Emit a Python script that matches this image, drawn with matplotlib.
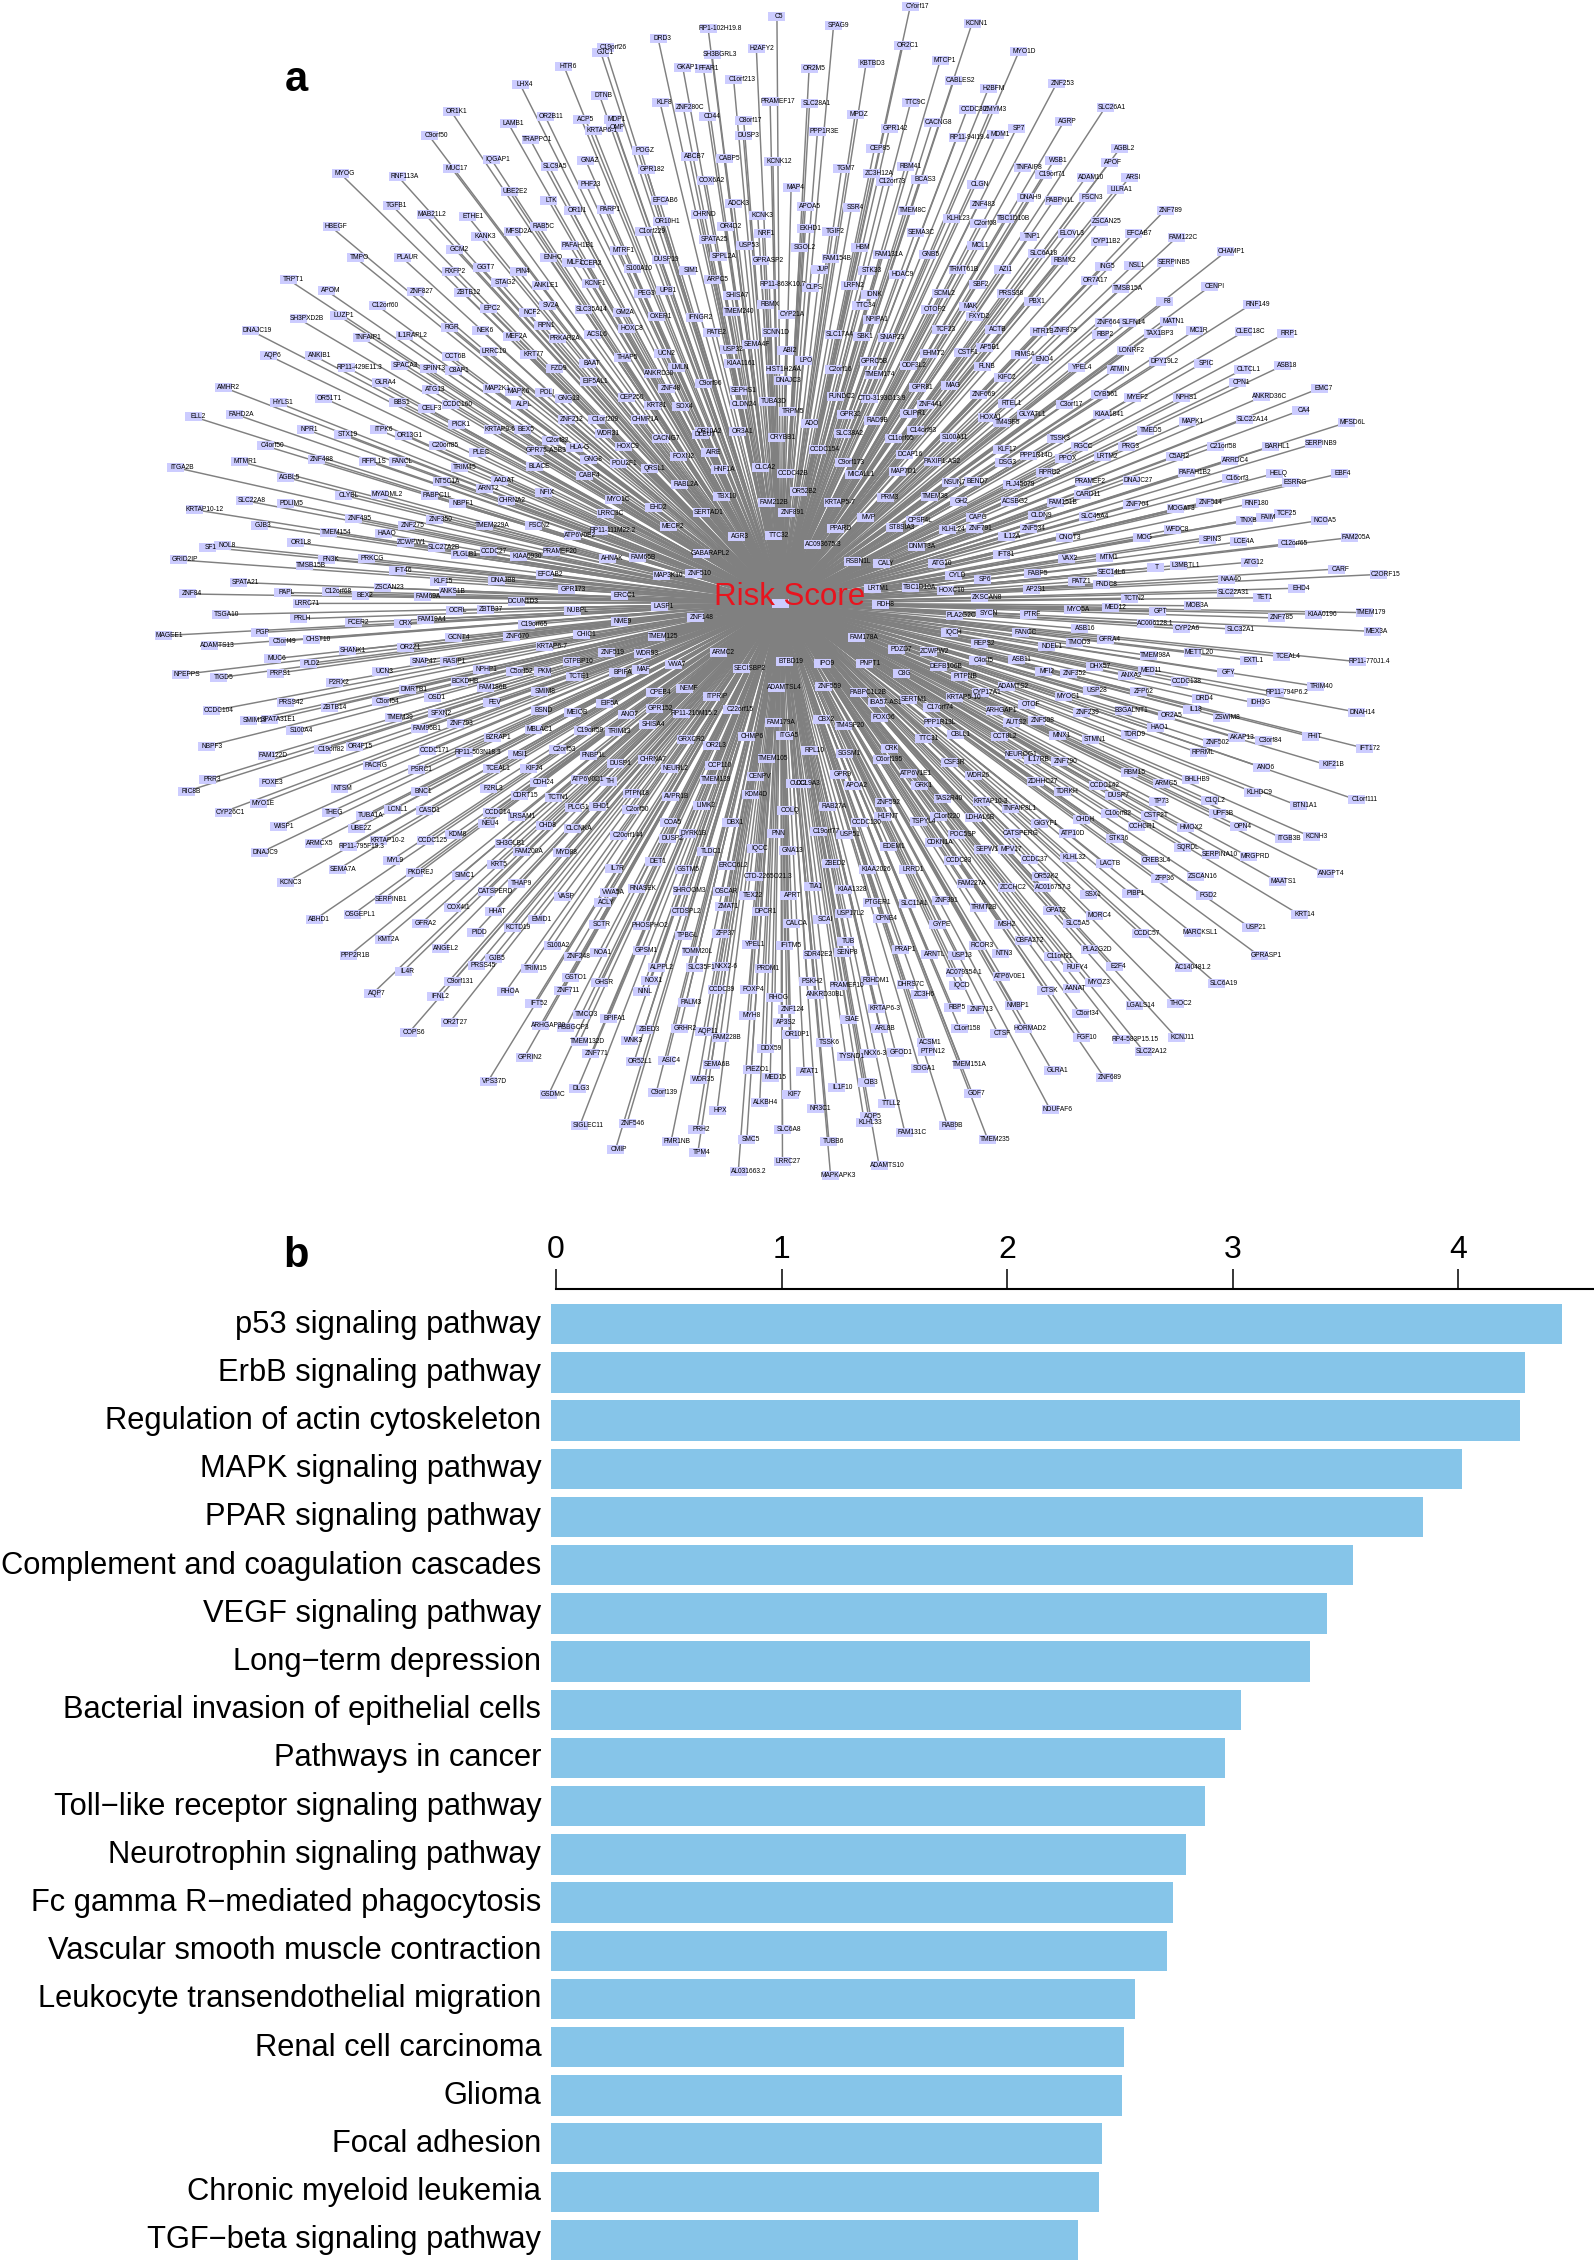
import matplotlib
matplotlib.use("Agg")
import matplotlib.pyplot as plt
from matplotlib.patches import Rectangle
from matplotlib.collections import LineCollection
from matplotlib.transforms import ScaledTranslation

plt.rcParams["font.family"] = ["Liberation Sans", "DejaVu Sans"]

# Pathway enrichment values (panel b)
pathways = ["p53 signaling pathway", "ErbB signaling pathway", "Regulation of actin cytoskeleton",
            "MAPK signaling pathway", "PPAR signaling pathway", "Complement and coagulation cascades",
            "VEGF signaling pathway", "Long\u2212term depression", "Bacterial invasion of epithelial cells",
            "Pathways in cancer", "Toll\u2212like receptor signaling pathway", "Neurotrophin signaling pathway",
            "Fc gamma R\u2212mediated phagocytosis", "Vascular smooth muscle contraction",
            "Leukocyte transendothelial migration", "Renal cell carcinoma", "Glioma", "Focal adhesion",
            "Chronic myeloid leukemia", "TGF\u2212beta signaling pathway"]
enrichment = [4.463, 4.297, 4.274, 4.017, 3.843, 3.534, 3.419, 3.344, 3.036, 2.967,
              2.876, 2.794, 2.736, 2.710, 2.568, 2.519, 2.510, 2.421, 2.408, 2.313]
x_ticks = [0, 1, 2, 3, 4]

# Network genes with layout position, read quadrant by quadrant
genes_nw = [("C5",1517,42),("RP1-102H19.8",1375,74),("DRD3",1235,100),("H2AFY2",1477,127),("C19orf26",1117,125),
("GJC1",1097,137),("SH3BGRL3",1375,143),("HTR6",1008,173),("GKAP1",1297,176),("FFAR1",1347,180),("C1orf213",1427,207),
("LHX4",903,222),("DTNB",1094,250),("PRAMEF17",1515,264),("KLF8",1240,269),("ZNF280C",1303,280),("OR1K1",739,292),
("OR2B11",968,305),("CD44",1355,304),("C8orf17",1449,316),("ACP5",1050,312),("MDP1",1125,311),("LAMB1",876,322),
("OMP",1128,332),("KRTAP6-1",1090,342),("DUSP3",1443,354),("C9orf50",690,355),("TRAPPC1",934,365),("POGZ",1193,393),
("ABCB7",1313,408),("CABP5",1397,415),("IQGAP1",838,417),("KCNK12",1517,423),("SLC9A5",977,436),("MUC17",739,439),
("GNAZ",1061,420),("GPR182",1212,442),("MYOG",469,454),("RNF113A",615,461),("COX6A2",1355,471),("PHF23",1064,482),
("MAP4",1556,489),("UBE2E2",881,500),("EFCAB6",1243,523),("LTK",968,523),("ADCK3",1420,533),("TGFB1",595,536),
("OR1I1",1030,549),("PARP1",1110,548),("CHRND",1337,560),("KCNK3",1478,564),("MAB21L2",681,561),("ETHE1",779,566),
("OR10H1",1249,580),("HBEGF",449,593),("OR4D2",1400,591),("RAB5C",950,592),("C1orf229",1210,604),("MFSD2A",890,605),
("KANK3",808,619),("SPATA25",1361,626),("NRF1",1487,610),("USP53",1445,642),("PAFAH1B1",1032,642),("MTRF1",1143,654),
("GCM2",745,651),("SPPL2A",1385,671),("TMPO",505,673),("PLAUR",620,673),("ENHO",971,674),("MLF1",1025,685),
("CCER2",1064,689),("GPRASP2",1490,680),("DUSP19",1246,679),("GGT7",809,699),("S100A10",1181,702),("SIM1",1306,706),
("RXFP2",737,710),("PIN4",899,709),("TRPT1",346,731),("ARPC5",1370,730),("STAG2",856,737),("RP11-863K10.7",1525,744),
("ANKLE1",957,745),("KCNF1",1074,740),("APOM",436,760),("UPB1",1250,760),("ZNF827",655,762),("ZBTB12",769,764),
("SHISA7",1417,771),("PEG3",1198,768),("RBMX",1495,796),("SV2A",968,797),("C12orf60",568,799),("EPC2",826,806),
("SLC35A14",1065,809),("TMEM240",1420,815),("GM2A",1146,817),("NCF2",921,817),("LUZP1",467,825),("OXER1",1233,828),
("IFNGR2",1327,829),("SH3PXD2B",378,833),("CYP21A",1550,822),("RPN1",956,850),("NEK6",808,863),("RGR",729,856),
("HOXC8",1162,859),("DNAJC19",259,863),("PATE2",1366,869),("SCNN1D",1510,870),("ACSL6",1080,875),("MEF2A",885,880),
("TNFAIP1",526,881),("IL1RAPL2",633,877),("PRKAR2A",1000,885),("SEMA4F",1463,901),("USP32",1407,913),("ABI2",1543,915),
("LRRC10",831,919),("KRT77",925,927),("AQP6",296,929),("ANKIB1",409,929),("THAP5",1151,935),("UCN2",1245,924),
("CCT6B",738,932),("KIAA1161",1425,950),("BAAT",1065,950),("RP11-429E11.3",505,959),("SPACA3",617,954),("LMLN",1280,959),
("SPINT3",686,964),("C8AP1",745,969),("FZD9",985,963),("HIST1H2AA",1527,965),("ANKRD30",1229,977),("C9orf96",1351,1002),
("DNAJC3",1540,995),("GLRA4",569,1000),("EIF5AL1",1075,998),("ATG13",689,1019),("MAP2K1",838,1014),("MAPK6",890,1024),
("POLI",958,1026),("SEPHS1",1433,1021),("ZNF48",1257,1014),("AMHR2",189,1012),("GNG13",1010,1041),("CEP250",1163,1038),
("ALPL",901,1056),("CLDN24",1433,1056),("TUBA3D",1505,1048),("OR51T1",433,1040),("HYLS1",321,1052),("BBS1",607,1053),
("KRT81",1223,1060),("SOX4",1290,1062),("CCDC160",741,1057),("CELF3",680,1068),("TRPM5",1550,1074),("ELL2",115,1089),
("FAHD2A",219,1082),("ZNF212",1018,1097),("C1orf209",1097,1096),("CHMP1A",1195,1097),("PICK1",751,1108),("KRTAP9-6",845,1122),
("BEX5",907,1123),("NPR1",384,1121),("ITPK6",564,1123),("OR10A2",1350,1128),("DLEU7",1340,1136),("OR3A1",1428,1128),
("WDR31",1105,1132),("STX19",477,1136),("OR13G1",627,1137),("CRYBB1",1525,1144),("C2orf82",982,1150),("CACNG7",1245,1147),
("HOXC9",1153,1167),("HLA-G",1037,1169),("C4orf50",295,1165),("C20orf85",712,1165),("GPR75-ASB3",955,1178),("PLEC",799,1183),
("AIRE",1360,1182),("FOXN2",1287,1194),("GNG8",1068,1201),("ZNF488",415,1200),("FANCL",608,1205),("RFPL1S",540,1205),
("MTMR1",229,1206),("POU2F1",1145,1211),("TRIM45",760,1222),("ITGA2B",77,1222),("BLACE",940,1219),("QRSL1",1216,1223),
("HNF1A",1386,1227),("CLCA2",1484,1222),("CCDC42B",1550,1237),("CABP4",1061,1243),("AGBL5",338,1247),("NT5C1A",717,1257),
("AADAT",855,1255),("NFIX",958,1286),("RABL2A",1292,1266),("ARNT2",818,1277),("CLYBL",479,1294),("MYADML2",571,1291),
("PABPC1L",692,1296),("SLC22A8",245,1308),("TBX10",1391,1298),("MYO1C",1130,1304),("CHRNA2",874,1307),("FAM212B",1505,1312),
("PDLIM5",341,1315),("NBPF1",754,1315),("EHD2",1225,1327),("KRTAP10-12",132,1332),("SERTAD1",1347,1340),("LRRC3C",1112,1342),
("ZNF891",1550,1340),("ZNF495",505,1356),("ZNF350",700,1357),("ZNF275",633,1372),("TMEM229A",826,1372),("FSCN2",938,1372),
("MECP2",1262,1376),("GJB3",273,1372),("RP11-111M22.2",1115,1387),("TMEM154",448,1392),("HAAO",572,1395),("ATP6V0E2",1038,1399),
("AGR3",1424,1401),("TTC32",1516,1400),("ZCWPW1",631,1417),("OR1L8",364,1418),("NOL8",185,1426),("SLC27A2B",710,1430),
("SF1",147,1430),("PLGLB1",760,1450),("CCDC27",830,1442),("PRAMEF20",988,1440),("GABARAPL2",1352,1446),("KIAA0930",909,1454),
("AHNAK",1115,1460),("FAM65B",1190,1458),("GRID2IP",85,1463),("FN3K",436,1462),("PRKCG",535,1460),("TMSB15B",389,1478),
("IFT46",610,1490),("MAP3K10",1251,1504),("ZNF510",1325,1498),("EFCAB2",965,1502),("DNAJB8",851,1516),("KLF15",708,1520),
("SPATA21",230,1522),("ZSCAN23",577,1536),("GPR173",1020,1540),("C12orf68",454,1545),("PAPL",330,1548),("ANKS1B",731,1546),
("ZNF84",102,1552),("ERCC1",1145,1555),("BEX2",518,1556),("FAM69A",672,1558)]

genes_sw = [("LRRC71",380,9),("DCUN1D3",900,5),("TSGA10",184,38),("OCRL",743,27),("ZBTB37",823,24),("NUBPL",1032,27),
("LASP1",1240,17),("ZNF148",1330,45),("PRLH",368,49),("FAM19A4",681,50),("FCER2",503,59),("CRX",617,62),("C19orf65",927,65),
("NME9",1141,55),("MAGEE1",46,93),("PGP",272,85),("ADAMTS13",162,120),("GCNT4",744,97),("ZNF670",887,95),("CHIC1",1054,89),
("TMEM125",1238,96),("C5orf49",325,108),("CHST10",405,103),("KRTAP6-7",970,121),("OR2Z1",628,123),("SHANK1",490,133),
("ZNF519",1115,138),("WDR93",1200,139),("ARMC2",1384,138),("MUC6",305,154),("SNAP47",662,161),("RASIP1",734,161),
("GTPBP10",1034,160),("PLD2",391,166),("VWA7",1272,169),("BTBD19",1545,160),("NPHP1",811,181),("C5orf52",895,186),("PKM",953,187),
("BPIFA",1140,190),("MAF",1190,182),("SECISBP2",1447,180),("NPEPPS",89,195),("PRPS1",315,192),("TIGD5",178,203),("UCN3",565,186),
("TCTE1",1036,201),("P2RX2",456,216),("BCKDHB",760,213),("FAM186B",826,229),("DMRTB1",636,235),("SMIM8",952,239),("CPEB4",1230,241),
("NEMF",1299,232),("ADAMTSL4",1530,228),("OSD1",691,254),("ITPRIP",1368,253),("FEV",832,268),("C5orf54",574,264),("EIF5A",1109,271),
("PRSS42",341,268),("ZBTB14",447,280),("GPR152",1231,284),("C22orf15",1423,285),("CCDC104",165,290),("BSND",950,288),("MEIOB",1030,294),
("ANO7",1158,300),("SFXN2",703,297),("RP11-210M15.2",1313,297),("SMIM19",252,316),("SPATA31E1",310,313),("TMEM39",603,308),
("ZNF793",752,322),("SHISA4",1215,325),("FAM179A",1521,321),("S100A4",364,341),("FAM96B1",668,335),("C19orf59",1062,342),
("TRIM13",1133,343),("MBLAC1",940,339),("BZRAP1",840,358),("CHMP6",1452,357),("ITGA5",1542,355),("GRXCR2",1307,364),("NBPF3",149,382),
("CCDC171",687,392),("OR4F15",508,384),("OR2L3",1366,379),("C19orf82",436,391),("C2orf53",1000,390),("RP11-503N18.3",790,398),
("FAM122D",297,407),("MSI1",893,404),("FNBP1L",1071,407),("CHRNA7",1213,416),("TMEM105",1503,415),("DUSP1",1135,428),("PACRG",546,432),
("CCP110",1374,433),("KIF24",926,440),("TCEAL1",839,441),("NEURL2",1267,441),("PSRC1",655,442),("CENPV",1472,461),("PRR3",149,469),
("TMEM139",1364,469),("TH",1110,475),("ATP6V0D1",1056,470),("CDH24",949,476),("FOXE3",296,478),("RIC8B",100,500),("BNC1",659,501),
("NTSM",466,493),("F2RL3",828,493),("KDM4D",1461,508),("PTPN18",1175,505),("CDRT15",906,512),("AVPR1B",1271,514),("TCTN1",985,517),
("CUX2",1565,480),("MYO1E",273,533),("EHD1",1089,540),("PLCG1",1033,541),("LIMK2",1342,538),("C2orf50",1175,548),("CCDC14",838,555),
("CASD1",674,551),("LCNL1",598,548),("THEG",445,554),("CYP26C1",194,554),("COLQ",1543,551),("TUBA1A",533,563),("LRSAM1",899,567),
("NEU4",822,585),("COA5",1260,582),("CHD8",960,590),("CLCNKA",1034,598),("DBX1",1410,581),("WISP1",323,592),("UBE2Z",509,598),
("KDM8",742,614),("C20orf144",1152,616),("PNN",1515,609),("DYRK1B",1312,611),("DUSP2",1260,623),("KRTAP10-2",574,628),("CCDC125",682,629),
("ARMCX5",410,636),("SH3GLB1",869,637),("RP11-795F19.3",510,644),("IQCC",1470,650),("GNA13",1550,654),("TLDC1",1353,656),("DNAJC9",279,661),
("FAM200A",914,656),("MYD88",1005,660),("MYL9",592,680),("DET1",1224,682),("KRT5",842,690),("ERCC6L2",1408,694),("SEMA7A",466,705),
("IL7R",1127,702),("GSTM5",1298,703),("PKDREJ",653,713),("SIMC1",760,720),("CTD-2265O21.3",1490,722),("KCNC3",340,738),("THAP9",895,740),
("RNASEK",1188,754),("SHROOM3",1300,760),("OSCAR",1390,762),("VWA5A",1117,765),("CATSPERD",832,762),("TEX22",1454,772),("APRT",1550,773),
("VASP",1005,775),("ZMAT1",1396,802),("ACLY",1100,791),("SERPINB1",582,782),("DPCR1",1484,813),("CTDSPL2",1294,813),("COX4I1",745,803),
("HHAT",837,815),("ABHD1",408,836),("OSGEPL1",506,822),("EMID1",945,835),("CALCA",1560,845),("SCTR",1089,849),("GFRA2",665,846),
("PHOSPHO2",1205,851),("KCTD19",888,855),("PIDD",795,868),("ZFP37",1388,871),("TPBGL",1298,877),("KMT2A",576,888),("YPEL1",1460,899),
("IFITM5",1545,902),("S100A2",985,903),("GPSM1",1197,917),("ANGEL2",715,910),("TOMM20L",1320,918),("NOA1",1092,922),("PPP2R1B",496,930),
("ZNF248",1034,932),("GJB5",837,936),("ALPPL2",1235,959),("SLC35F1",1330,959),("NKX2-6",1390,957),("PRDM1",1491,962),("PRSS45",803,956),
("TRIM15",931,962),("IL4R",620,970),("GSTO1",1027,987),("GHSR",1095,999),("NOX1",1215,993),("C9orf131",749,998),("CCDC39",1380,1018),
("FOXP4",1456,1018),("ZNF711",1010,1021),("RHOA",868,1022),("NINL",1195,1024),("AQP7",546,1029),("IFNL2",700,1037),("RHOG",1517,1039),
("PALM3",1305,1051),("IFT52",938,1054),("ZNF124",1550,1071),("TMCO3",1052,1084),("MYH8",1451,1085),("BPIFA1",1120,1093),("AP3S2",1535,1105),
("OR2T27",736,1105),("ARHGAP30",961,1111),("HSBGCP3",1020,1116),("ZBED3",1205,1121),("GRHR2",1290,1120),("AQP11",1347,1128),("OR10P1",1560,1135),
("FAM228B",1392,1144),("COPS6",636,1131),("TMEM132D",1055,1153),("WNK3",1167,1152),("DDX59",1497,1172),("ZNF771",1078,1186),("GPRIN2",917,1195),
("OR52L1",1182,1206),("ASIC4",1258,1204),("SEMA6B",1368,1215),("PIEZO1",1465,1227),("MED15",1508,1249),("WDR35",1335,1253),("VPS37D",830,1257),
("KIF7",1555,1292),("DLG3",1041,1276),("C9orf139",1240,1288),("GSDMC",973,1293),("ALKBH4",1485,1314),("HPX",1375,1335),("ZNF546",1165,1367),
("SIGLEC11",1056,1373),("PRH2",1329,1384),("SLC6A8",1540,1384),("SMC5",1449,1411),("FMR1NB",1271,1416),("CMIP",1132,1437),("TPM4",1331,1444),
("LRRC27",1540,1467),("AL031663.2",1443,1494)]

genes_ne = [("CYorf17",283,16),("SPAG9",93,67),("KCNN1",427,61),("OR2C1",260,119),("MYO1D",540,135),("MTCP1",350,159),("KBTBD3",174,165),
("OR2M5",34,180),("CABLES2",388,210),("ZNF253",633,219),("H2BFM",467,230),("SLC28A1",40,270),("TTC9C",279,267),("SLC26A1",753,281),
("CCDC30",418,285),("ZMYM3",472,286),("MPDZ",143,298),("AGRP",646,318),("CACNG8",333,321),("GPR142",230,337),("SP7",529,336),("PPP1R3E",59,344),
("MDM1",482,351),("RP11-94I19.4",408,358),("AGBL2",783,389),("CEP85",192,387),("WSB1",622,420),("APOF",756,424),("TGM7",110,439),("RBM41",266,436),
("TNFAIP8",553,438),("ZC3H12A",190,454),("C19orf71",607,456),("ADAM10",703,465),("ARSI",805,463),("BCAS3",301,470),("C12orf73",222,475),
("CLGN",434,481),("LILRA1",775,496),("DNAH9",557,516),("FSCN3",705,517),("PABPN1L",628,525),("ZNF483",444,535),("SSR4",134,542),("APOA5",25,540),
("TMEM8C",272,551),("ZNF789",895,549),("TBC1D10B",515,570),("KLHL23",381,572),("ZSCAN25",740,578),("C2orf68",448,584),("EFCAB7",818,611),
("SEMA3C",292,608),("TGIF2",85,604),("ELOVL3",657,611),("EKHD1",25,598),("TNP1",560,618),("FAM122C",925,621),("MCL1",434,642),("CYP11B2",740,632),
("HBM",151,647),("SGOL2",12,647),("FAM131A",214,665),("GNB5",316,666),("FAM154B",90,676),("SLC6A18",588,663),("RBMX2",638,680),("JUP",55,703),
("STK33",173,707),("TRMT61B",396,705),("AZI1",497,705),("HDAC9",247,718),("OR7A17",712,733),("ING5",742,697),("NSL1",812,694),("SERPINB5",902,685),
("CHAMP1",1041,658),("SBF2",437,743),("LRFN2",131,746),("CLPS",35,751),("TMSB15A",791,753),("PRSS38",509,768),("SCML2",350,768),("IDNK",178,769),
("PBX1",571,788),("F8",885,789),("CENPI",1000,749),("RNF149",1103,795),("MAK",412,800),("TTC34",158,798),("OTOP2",325,809),("FXYD2",432,828),
("NPIPA1",186,836),("ZNF664",746,842),("SLFN14",805,843),("MATN1",900,840),("ACTB",477,860),("TCF23",351,861),("HTR1B",587,865),("ZNF879",640,863),
("MC1R",962,863),("CLEC18C",1087,867),("RRP1",1180,871),("RBP2",735,873),("TAX1BP3",868,872),("SLC17A4",97,875),("SBK1",158,880),("SNAP23",222,882),
("AP5B1",458,907),("LONRF2",800,915),("EHMT2",323,925),("CSTF1",405,920),("RIMS4",541,926),("ENO4",590,939),("LPO",15,941),("GPRC5B",179,945),
("ODF3L2",275,954),("DPY19L2",880,945),("SPIC",980,949),("ASB18",1175,956),("FLNB",450,958),("YPEL4",680,959),("ATMIN",772,965),("CLTCL1",1082,966),
("C2orf16",97,966),("TMEM174",194,979),("KIFC2",500,987),("CPN1",1065,999),("EMC7",1262,1015),("GPR81",295,1012),("MAG",368,1007),("ZNF669",444,1030),
("CYB561",738,1030),("MYEF2",815,1038),("NPHS1",933,1038),("FUNDC2",101,1037),("CTD-3193O13.9",198,1041),("ANKRD36C",1133,1037),("ZNF441",316,1056),
("RTEL1",510,1055),("C3orf17",654,1056),("GLYATL1",561,1083),("GLIPR1",275,1081),("KIAA1841",746,1083),("GPR32",122,1084),("HOXA1",461,1091),
("CA4",1215,1072),("RAD9B",186,1098),("MAPK1",947,1102),("SLC22A14",1092,1095),("MFSD6L",1333,1104),("ADO",30,1107),("TM4SF5",500,1105),
("C14orf93",297,1124),("TMED5",846,1125),("SLC38A2",119,1132),("S100A11",374,1144),("C11orf65",244,1147),("TSSK3",628,1146),("CCDC154",59,1175),
("SERPINB9",1257,1160),("BARHL1",1150,1166),("C21orf58",1021,1167),("RGCC",683,1168),("PRG3",797,1167),("KLF17",499,1174),("C9orf173",124,1209),
("DCAF16",266,1187),("PPP1R14D",570,1189),("PPOX",645,1197),("LRTM2",741,1194),("C5AR2",915,1192),("ARRDC4",1050,1204),("DSG3",500,1209),
("PAXIP1-AS2",343,1207),("MICALL1",147,1240),("MAP7D1",250,1233),("RPRD2",603,1235),("PAFAH1B2",952,1235),("HELQ",1155,1237),("EBF4",1310,1238),
("C16orf3",1055,1250),("NSUN7",374,1260),("BEND7",429,1257),("FLJ45079",530,1266),("PRAMEF2",700,1259),("DNAJC27",816,1256),("ESRRG",1195,1262),("CARD11",695,1293),
("OR52B2",10,1285),("KRTAP5-7",97,1313),("PRM3",215,1301),("TMEM38",327,1297),("GH2",390,1311),("ACSBG2",520,1310),("FAM151B",634,1314),
("ZNF514",990,1312),("RNF180",1102,1316),("TCF25",1175,1343),("ZNF704",815,1319),("MOGAT3",920,1330),("CLDN9",583,1346),("SLC45A4",711,1350),
("CAPG",430,1351),("CPSF4L",290,1361),("MVP",166,1353),("TNXB",1082,1360),("FAIM",1130,1353),("NCOA5",1265,1360),("ST8SIA3",246,1378),("PPARD",97,1381),
("ZNF791",435,1380),("KLHL24",370,1383),("ZNF534",565,1382),("WFDC8",910,1384),("IL12A",510,1403),("CNOT3",651,1405),("MOG",830,1405),("SPIN3",995,1411),
("FAM205A",1342,1405),("LCE4A",1070,1416),("C12orf65",1192,1421),("AC093675.3",55,1422),("DNMT3A",295,1429),("IFT81",498,1450),("VAX2",652,1459),
("MTM1",745,1458),("RSBN1L",140,1468),("CALY",207,1473),("ATG10",342,1472),("T",860,1483),("L3MBTL1",930,1477),("ATG12",1096,1469),("CARF",1303,1487),
("FABP5",574,1498),("SEC14L6",753,1496),("CYLD",379,1503),("C2ORF15",1412,1501),("NAA40",1040,1513),("SP6",447,1514),("PATZ1",678,1520),("FNDC8",740,1527),
("LRTM1",188,1537),("TBC1D10A",287,1534),("EHD4",1208,1537),("HOXC10",365,1543),("AP2S1",570,1541),("SLC22A31",1045,1548),("ZKSCAN8",450,1561),
("TCTN2",807,1563),("TET1",1122,1562)]

genes_se = [("RDH8",205,12),("PLA2G2C",390,40),("SYCN",455,36),("PTRF",560,38),("MYO5A",670,26),("MED12",762,19),("MOB3A",958,15),("GPT",870,31),
("ZNF785",1163,47),("KIAA0196",1259,37),("TMEM179",1378,33),("ASB16",687,75),("AC006128.1",858,61),("CYP2A6",935,75),("SLC32A1",1062,76),("MEX3A",1392,82),
("FAM178A",153,97),("IQCH",370,85),("FANCC",545,84),("GFRA4",748,104),("TMOD3",673,112),("REPS2",445,114),("NDEL1",607,122),("PDZD7",245,130),
("ZCWPW2",325,135),("TMEM98A",858,145),("METTL20",963,136),("TCEAL4",1177,148),("EXTL1",1094,157),("RP11-770J1.4",1373,161),("ASB11",535,155),
("C4orf5",442,158),("IPO9",65,167),("PNPT1",168,167),("DHX57",723,175),("MED11",847,184),("DEFB106B",353,174),("ZNF352",663,193),("MFI2",596,188),
("GFY",1033,190),("C8G",253,193),("ANXA2",800,196),("PITPNB",400,200),("CCDC138",933,214),("TRIM40",1258,225),("ADAMTS2",514,225),("ZNF559",72,226),
("USP28",715,236),("ZFP62",829,240),("RP11-794P6.2",1175,241),("PABPC1L2B",163,241),("CYP17A1",452,241),("MYOC1",648,252),("SERTM1",275,259),
("KRTAP5-10",394,256),("IBA57-AS1",207,267),("DRD4",975,257),("IDH3G",1110,269),("C17orf74",337,281),("OTOF",557,274),("ARHGAP1",486,289),
("B3GALNT1",800,290),("ZNF239",693,295),("IL18",955,287),("DNAH14",1357,293),("FOXO6",203,307),("CBX2",62,311),("AUTS2",523,320),("ZNF598",585,315),
("OR2A5",895,302),("ZSWIM8",1032,306),("PPP1R13L",338,321),("TM4SF20",121,329),("FHIT",1242,357),("HAO1",866,334),("TDRD9",808,351),("CBLL1",387,351),
("CCT8L2",495,357),("MNX1",631,353),("TTC31",310,363),("STMN1",712,365),("ZNF502",1008,373),("AKAP13",1068,359),("C3orf84",1135,367),("IFT172",1375,387),
("RPRML",973,399),("CRK",222,388),("RPL10",35,393),("SGSM1",120,400),("NEUROG1",532,405),("IL17RB",575,416),("C6orf195",215,418),("KIF21B",1286,431),
("ANO6",1123,437),("ZNF790",640,423),("CSF3R",373,424),("GPR9",103,457),("RBM15",808,451),("ATP6V1E1",280,453),("WDR26",430,459),("C1orf111",1361,522),
("BHLHB9",957,470),("ARMC5",883,480),("GRK1",297,484),("CCL9A3",20,479),("APOA2",138,484),("ZDHHC27",585,473),("CCDC142",735,484),("TDRKH",645,501),
("KLHDC9",1107,502),("DUSP7",768,510),("TAS2R40",360,518),("KRTAP10-3",460,527),("ZNF592",215,528),("TP73",872,527),("C1QL2",1000,524),("BTN1A1",1217,538),
("RAB27A",82,539),("TNFAIP8L1",530,545),("C10orf82",767,559),("UPF3B",1020,559),("H1FNT",212,566),("C1orf220",354,567),("LDHAL6B",435,568),("CHDH",688,574),
("CSTF2T",858,562),("TSPYL4",300,580),("CCDC130",160,581),("GIGYF1",592,583),("OPN4",1068,592),("CCHCR1",825,593),("HMOX2",943,595),("C19orf77",63,604),
("USP51",120,612),("CATSPERG",533,610),("POC5SP",393,612),("ATP10D",660,609),("ITGB3B",1180,624),("KCNH3",1245,619),("STK36",770,622),("CDKN1A",337,633),
("SQRDL",935,647),("EDEM1",226,643),("SEPW1",452,652),("MPV17",510,651),("SERPINA10",1013,664),("MRGPRD",1097,671),("LACTB",747,689),("KLHL32",662,674),
("CCDC37",567,678),("CCDC83",382,680),("CREB3L4",860,680),("ANGPT4",1282,715),("ZBED2",85,689),("KIAA2026",183,704),("LRRD1",272,703),("ZFP36",880,729),
("ZSCAN16",972,723),("OR52K2",595,723),("MAATS1",1165,735),("FAM227A",415,742),("ZCCHC2",513,751),("AC016757.3",610,752),("TIA1",39,748),("KIAA1328",125,756),
("SSX1",706,770),("FGD2",985,773),("PIBF1",810,768),("PTGER1",188,791),("SLC11A1",275,792),("ZNF391",354,786),("TRMT2B",445,804),("KRT14",1218,823),
("GPAT2",618,812),("USP17L2",122,819),("SCAI",62,835),("MORC4",722,825),("CPNE4",208,831),("SLC5A5",670,846),("MSH2",498,849),("GYPE",342,849),("USP21",1099,857),
("CCDC57",836,872),("MARCKSL1",965,870),("CBFA2T2",555,891),("TUB",117,893),("GPRASP1",1125,930),("RCOR3",440,903),("PLA2G2D",716,914),("PRAP1",255,914),
("SENP8",115,922),("SDR42E2",45,926),("NTN3",493,923),("ARNTL",325,927),("USP13",390,928),("C11orf21",628,932),("RUFY4",668,960),("E2F4",768,957),
("AC140481.2",948,961),("SLC6A19",1022,1003),("AC079354.1",397,974),("ATP6V0E1",506,985),("R3HDM1",183,993),("PSKH2",30,997),("DHRS7C",268,1006),
("PRAMEF10",113,1007),("MYOZ3",720,1000),("IQCD",390,1008),("CTSK",602,1020),("AANAT",666,1014),("ZC3H6",300,1031),("ANKRD30BL",60,1031),("NMBP1",526,1059),
("THOC2",918,1055),("LGALS14",823,1060),("RBP5",378,1066),("ZNF713",437,1071),("KRTAP6-3",205,1068),("C5orf34",693,1081),("SIAE",127,1097),("ARL8B",205,1119),
("C1orf158",404,1119),("HORMAD2",555,1119),("CTSF",488,1134),("KCNJ11",922,1143),("FGF10",692,1142),("RP4-583P15.15",808,1149),("ACSM1",315,1155),
("TSSK6",70,1156),("NKX6-3",180,1184),("GFOD1",243,1183),("TYSND1",125,1192),("PTPN12",320,1181),("SLC22A12",849,1180),("TMEM151A",408,1213),("SOGA1",300,1224),
("GLRA1",620,1230),("ATAT1",22,1233),("ZNF689",748,1247),("CIB3",170,1261),("IL1F10",103,1273),("GDF7",425,1289),("TTLL2",220,1315),("NR3C1",50,1328),
("NDUFAF6",620,1331),("AQP5",175,1350),("KLHL33",170,1366),("RAB9B",368,1374),("FAM131C",270,1392),("TUBB6",82,1414),("TMEM235",470,1410),
("ADAMTS10",210,1477),("MAPKAPK3",93,1503)]

# quadrant origin of each list in the layout
quadrants = [(genes_nw, 150, 0), (genes_ne, 800, 0), (genes_sw, 150, 600), (genes_se, 800, 600)]
hub = (781, 603)

fig = plt.figure(figsize=(15.94, 22.62), dpi=100)
net = fig.add_axes([0, 0, 1, 1])
net.set_xlim(0, 1594)
net.set_ylim(2262, 0)
net.axis("off")

names, xs, ys = [], [], []
for genes, x0, y0 in quadrants:
    for name, gx, gy in genes:
        names.append(name)
        xs.append(x0 + gx / 2.412)
        ys.append(y0 + gy / 2.613)

# box sits left of the label centre, more so for long names
box_x = [x - len(n) for n, x in zip(names, xs)]

segs = [[hub, (bx, y)] for bx, y in zip(box_x, ys)]
net.add_collection(LineCollection(segs, colors="#808080", linewidths=1.05, zorder=1))

for n, x, bx, y in zip(names, xs, box_x, ys):
    net.add_patch(Rectangle((bx - 8.5, y - 4.5), 17, 9, facecolor="#CCCCFF", edgecolor="none", zorder=2))
    net.text(x, y, n, fontsize=4.8, ha="center", va="center", color="black", zorder=3)

net.add_patch(Rectangle((hub[0] - 8.5, hub[1] - 4.5), 17, 9, facecolor="#CCCCFF", edgecolor="none", zorder=2))
net.text(790, 597, "Risk Score", color="#E8141E", fontsize=22.5, ha="center", va="center", zorder=4)
net.text(296, 80, "a", fontsize=30, fontweight="bold", ha="center", va="center")
net.text(296, 1256, "b", fontsize=30, fontweight="bold", ha="center", va="center")

# Panel b
ax = fig.add_axes([551 / 1594, 0, (1594 - 551) / 1594, (2262 - 1289) / 2262])
ax.patch.set_alpha(0)
ypos = list(range(len(pathways)))
ax.barh(ypos, [v + 0.022 for v in enrichment], left=-0.022, height=0.84, color="#86C5E9")
ax.set_xlim(-0.0222, 4.603)
ax.set_ylim(19.457, -0.73)
ax.xaxis.tick_top()
ax.set_xticks(x_ticks)
ax.set_xticklabels(x_ticks, fontsize=23)
ax.set_yticks(ypos)
ax.set_yticklabels(pathways, fontsize=22.2)
ax.tick_params(axis="y", length=0, pad=7)
ax.tick_params(axis="x", length=14.4, width=1.1, pad=3)
up = ScaledTranslation(0, 3 / 100, fig.dpi_scale_trans)
for lab in ax.get_yticklabels():
    lab.set_transform(lab.get_transform() + up)
for side in ["left", "right", "bottom"]:
    ax.spines[side].set_visible(False)
ax.spines["top"].set_linewidth(1.5)
ax.spines["top"].set_bounds(0, 4.603)

fig.savefig("out.png", dpi=100)
